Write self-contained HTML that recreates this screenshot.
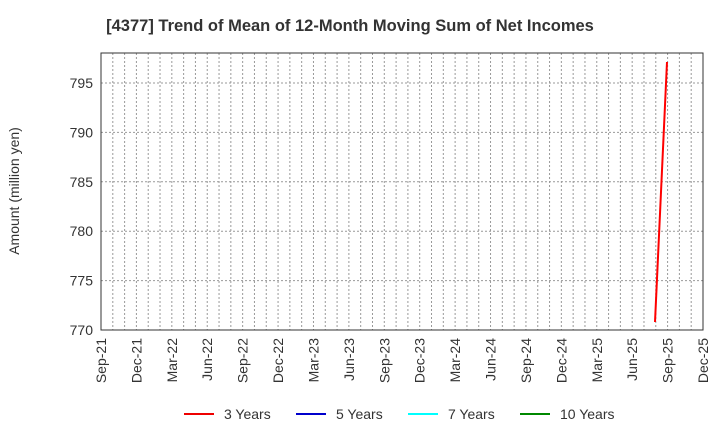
<!DOCTYPE html>
<html><head><style>body{margin:0;background:#fff}svg{display:block}text{font-family:"Liberation Sans",Arial,sans-serif;fill:#333}</style></head><body>
<svg width="720" height="440" xmlns="http://www.w3.org/2000/svg">
<text x="350" y="31" text-anchor="middle" font-size="16.5" font-weight="bold">[4377]  Trend of Mean of 12-Month Moving Sum of Net Incomes</text>
<g id="grid" stroke="#999" stroke-width="1" stroke-dasharray="2,2"></g>
<rect x="101" y="53" width="602" height="277" fill="none" stroke="#333" stroke-width="1"/>
<g id="lab" font-size="14"></g>
<text transform="translate(19,191) rotate(-90)" text-anchor="middle" font-size="14">Amount (million yen)</text>
<line x1="655" y1="322" x2="667" y2="62" stroke="#f00" stroke-width="2"/>
<g font-size="14">
<line x1="184" y1="414" x2="214" y2="414" stroke="#e00" stroke-width="2"/><text x="224" y="419">3 Years</text>
<line x1="296" y1="414" x2="326" y2="414" stroke="#00c" stroke-width="2"/><text x="336" y="419">5 Years</text>
<line x1="408" y1="414" x2="438" y2="414" stroke="#0ff" stroke-width="2"/><text x="448" y="419">7 Years</text>
<line x1="520" y1="414" x2="550" y2="414" stroke="#080" stroke-width="2"/><text x="560" y="419">10 Years</text>
</g>
<script>
var g=document.getElementById('grid'),l=document.getElementById('lab'),ns='http://www.w3.org/2000/svg';
function el(p,t,a,tx){var e=document.createElementNS(ns,t);for(var k in a)e.setAttribute(k,a[k]);if(tx)e.textContent=tx;p.appendChild(e);return e;}
for(var i=1;i<51;i++){var x=101+i*602/51;el(g,'line',{x1:x,y1:53,x2:x,y2:330});}
for(var v=775;v<=795;v+=5){var y=330-(v-770)*9.88;el(g,'line',{x1:101,y1:y,x2:703,y2:y});}
for(var v=770;v<=795;v+=5){var y=330-(v-770)*9.88;el(l,'text',{x:93,y:y+5,'text-anchor':'end'},v);}
var m=['Sep','Dec','Mar','Jun'],yr=21;
for(var i=0;i<18;i++){var x=101+i*602/17;var mm=m[i%4];if(mm=='Mar')yr++;var s=mm+'-'+yr;
el(l,'text',{transform:'translate('+(x+5)+',338) rotate(-90)','text-anchor':'end'},s);}
</script>
</svg>
</body></html>
